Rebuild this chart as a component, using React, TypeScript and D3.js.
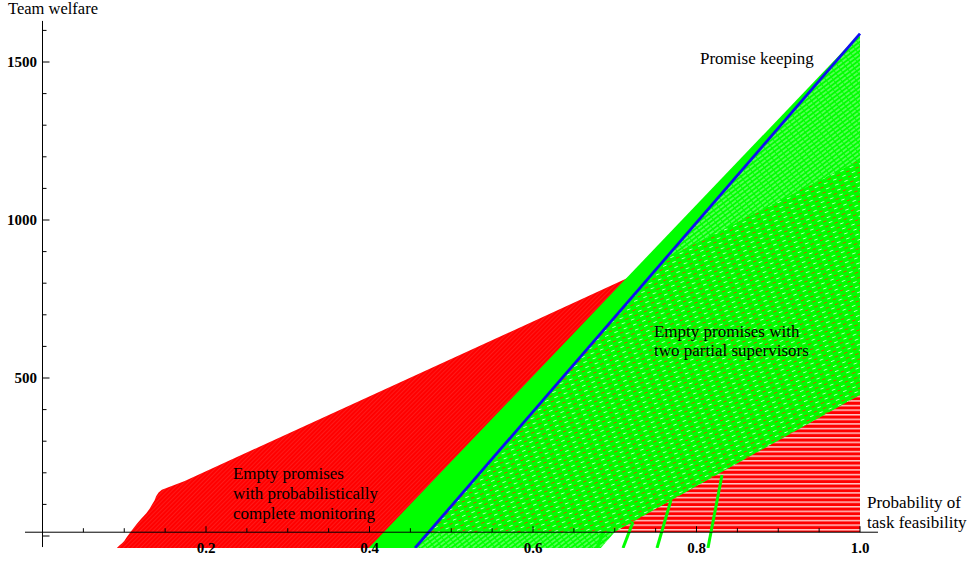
import React from "react";
import * as d3 from "d3";

type Pt = [number, number];

// ---- data ----
const X_TICK_LABELS = [0.2, 0.4, 0.6, 0.8, 1.0];
const Y_TICK_LABELS = [500, 1000, 1500];

// red region: empty promises with probabilistically complete monitoring
const redRegion: Pt[] = [
  [0.091, -38], [0.094, -30], [0.097, -24], [0.1, -16], [0.103, -4], [0.107, 10],
  [0.111, 24], [0.116, 40], [0.121, 55], [0.127, 72], [0.131, 86], [0.134, 100],
  [0.137, 112], [0.139, 126], [0.142, 138], [0.146, 146], [0.174, 174],
  [0.713, 813], [1.0, 1190], [1.0, 13], [0.465, 13], [0.44, -38],
];
// solid green band between the outer green edge and promise keeping line
const greenBand: Pt[] = [[0.399, -38], [1.0, 1590], [0.4557, -38]];
// hatched green region: empty promises with two partial supervisors
const hatchRegion: Pt[] = [[0.4557, -38], [1.0, 1590], [1.0, 446], [0.70, 13], [0.683, -38]];
// red horizontally striped region
const stripeRegion: Pt[] = [[0.70, 13], [1.0, 446], [1.0, 13]];
// promise keeping line
const blueLine: Pt[] = [[0.4557, -38], [1.0, 1590]];
// green strands below the hatched region
const greenStrands: Pt[][] = [
  [[0.6783, -38], [0.6856, 9]],
  [[0.7101, -38], [0.7223, 44]],
  [[0.7517, -38], [0.7688, 114]],
  [[0.814, -38], [0.8312, 193]],
];

const AXIS_Y_VALUE = 12;

export default function App() {
  const W = 969, H = 563;
  const x = d3.scaleLinear().domain([0, 1]).range([42.5, 860]);
  const y = d3.scaleLinear().domain([0, 1500]).range([536, 62]);
  const line = d3.line<Pt>().x(d => x(d[0])).y(d => y(d[1]));
  const poly = (pts: Pt[]) => line(pts) + "Z";

  const xMinor = d3.range(1, 21).map(i => i * 0.05);
  const yMinor = d3.range(0, 17).map(i => i * 100);
  const axisY = y(AXIS_Y_VALUE);
  const axisX = x(0);
  const font = "'Liberation Serif', 'Times New Roman', serif";

  const clipTop = y(1700), clipBottom = y(-38);

  return (
    <svg width={W} height={H} style={{ position: "absolute", left: 0, top: 0, background: "#fff" }} fontFamily={font}>
      <defs>
        <clipPath id="plotClip">
          <rect x={x(0)} y={clipTop} width={x(1) - x(0) + 2} height={clipBottom - clipTop} />
        </clipPath>
        <clipPath id="redClip">
          <path d={poly(redRegion)} />
        </clipPath>
        <pattern id="redTex" width="3" height="3" patternUnits="userSpaceOnUse" patternTransform="rotate(-45)">
          <rect width="3" height="3" fill="#ff0000" />
          <line x1="0" y1="0.5" x2="3" y2="0.5" stroke="#ff3434" strokeWidth="0.5" />
        </pattern>
        <pattern id="greenHatch" width="6" height="3.6" patternUnits="userSpaceOnUse" patternTransform="rotate(-37)">
          <rect width="6" height="3.6" fill="#00ff00" />
          <line x1="0" y1="1.8" x2="6" y2="1.8" stroke="#c8ffc8" strokeWidth="0.8" strokeDasharray="5 1" />
        </pattern>
        <pattern id="redDash" width="10" height="5.4" patternUnits="userSpaceOnUse" patternTransform="rotate(-22)">
          <rect width="10" height="5.4" fill="#00ff00" />
          <rect x="0" y="1" width="3.6" height="0.8" fill="#ff3000" />
          <rect x="5" y="3.7" width="3.6" height="0.8" fill="#d8ffd8" />
        </pattern>
        <pattern id="redStripes" width="10" height="4.6" patternUnits="userSpaceOnUse">
          <rect width="10" height="4.6" fill="#ff0000" />
          <rect y="0" width="10" height="1.5" fill="#ffc4c4" />
        </pattern>
      </defs>

      <g clipPath="url(#plotClip)">
        <path d={poly(redRegion)} fill="url(#redTex)" />
        <path d={poly(greenBand)} fill="#00ff00" />
        <path d={poly(hatchRegion)} fill="url(#greenHatch)" />
        <g clipPath="url(#redClip)">
          <path d={poly(hatchRegion)} fill="url(#redDash)" />
        </g>
        <path d={poly(stripeRegion)} fill="url(#redStripes)" />
        {greenStrands.map((s, i) => (
          <path key={i} d={line(s) || ""} stroke="#00ff00" strokeWidth={3} fill="none" />
        ))}
        <path d={line(blueLine) || ""} stroke="#1010f0" strokeWidth={2.8} fill="none" />
      </g>

      {/* axes */}
      <line x1={x(-0.0214)} x2={x(1.022)} y1={axisY} y2={axisY} stroke="#000" strokeWidth={1} />
      <line x1={axisX} x2={axisX} y1={y(-35)} y2={y(1630)} stroke="#000" strokeWidth={1} />
      {xMinor.map((v, i) => {
        const major = X_TICK_LABELS.some(t => Math.abs(t - v) < 1e-6);
        return <line key={i} x1={x(v)} x2={x(v)} y1={axisY} y2={axisY - (major ? 6 : 4)} stroke="#000" strokeWidth={1} />;
      })}
      {yMinor.map((v, i) => {
        const major = v % 500 === 0;
        return <line key={i} x1={axisX} x2={axisX + (major ? 7 : 4)} y1={y(v)} y2={y(v)} stroke="#000" strokeWidth={1} />;
      })}
      {X_TICK_LABELS.map(v => (
        <text key={v} x={x(v)} y={553} textAnchor="middle" fontSize={15} fontWeight="bold">{v.toFixed(1)}</text>
      ))}
      {Y_TICK_LABELS.map(v => (
        <text key={v} x={37} y={y(v)} dy="0.35em" textAnchor="end" fontSize={15} fontWeight="bold">{v}</text>
      ))}

      {/* axis labels */}
      <text x={8} y={14} fontSize={16.5}>Team welfare</text>
      <text x={867} y={508} fontSize={17}>Probability of</text>
      <text x={867} y={528} fontSize={17}>task feasibility</text>

      {/* annotations */}
      <text x={x(0.8043)} y={y(1494)} fontSize={17}>Promise keeping</text>
      <text x={x(0.748)} y={y(630)} fontSize={17}>
        <tspan x={x(0.748)}>Empty promises with</tspan>
        <tspan x={x(0.748)} dy={19.5}>two partial supervisors</tspan>
      </text>
      <text x={x(0.233)} y={y(180)} fontSize={17}>
        <tspan x={x(0.233)}>Empty promises</tspan>
        <tspan x={x(0.233)} dy={20}>with probabilistically</tspan>
        <tspan x={x(0.233)} dy={20}>complete monitoring</tspan>
      </text>
    </svg>
  );
}
